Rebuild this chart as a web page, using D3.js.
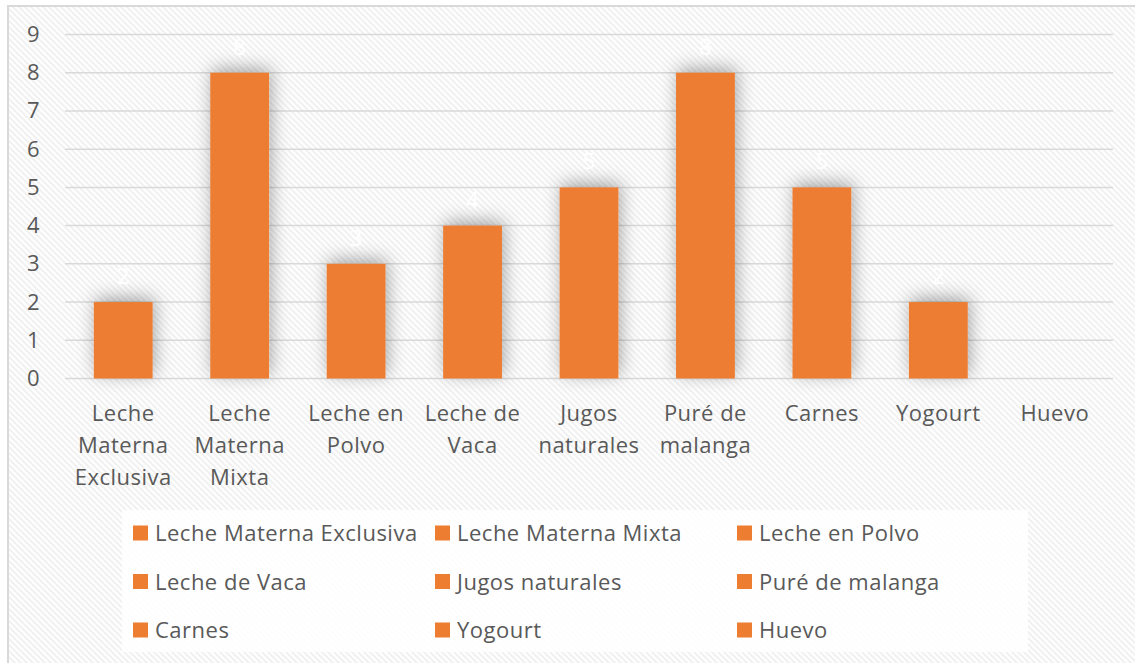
<!DOCTYPE html>
<html>
<head>
<meta charset="utf-8">
<script src="https://cdn.jsdelivr.net/npm/d3@7"></script>
<style>
  html, body { margin: 0; padding: 0; background: #fff; }
  svg { display: block; font-family: "Open Sans", sans-serif; letter-spacing: 0.5px; }
</style>
</head>
<body>
<svg id="chart" width="1135" height="663"></svg>
<script>
// data
const categories = ['Leche Materna Exclusiva', 'Leche Materna Mixta', 'Leche en Polvo',
  'Leche de Vaca', 'Jugos naturales', 'Puré de malanga', 'Carnes', 'Yogourt', 'Huevo'];
const values = [2, 8, 3, 4, 5, 8, 5, 2, 0];
const tickLines = [
  ['Leche', 'Materna', 'Exclusiva'],
  ['Leche', 'Materna', 'Mixta'],
  ['Leche en', 'Polvo'],
  ['Leche de', 'Vaca'],
  ['Jugos', 'naturales'],
  ['Puré de', 'malanga'],
  ['Carnes'],
  ['Yogourt'],
  ['Huevo']
];
const yTicks = [0, 1, 2, 3, 4, 5, 6, 7, 8, 9];

const orange = '#ED7D31',
      textGray = '#595959',
      gridGray = '#D9D9D9',
      fontSize = '22px';

const svg = d3.select('#chart');

// background pattern
const defs = svg.append('defs');
const pat = defs.append('pattern')
  .attr('id', 'hatch')
  .attr('width', 6)
  .attr('height', 6)
  .attr('patternUnits', 'userSpaceOnUse');
pat.append('rect').attr('width', 6).attr('height', 6).attr('fill', '#fff');
pat.append('path')
  .attr('d', 'M-1,-1 L7,7 M-4,2 L1,7 M2,-4 L7,1')
  .attr('stroke', '#F1F1F1')
  .attr('stroke-width', 2);

const shadow = defs.append('filter')
  .attr('id', 'glow')
  .attr('x', '-60%').attr('y', '-40%')
  .attr('width', '220%').attr('height', '180%');
shadow.append('feDropShadow')
  .attr('dx', 2).attr('dy', -4)
  .attr('stdDeviation', 9)
  .attr('flood-color', '#000')
  .attr('flood-opacity', 0.34);

svg.append('rect')
  .attr('x', 8).attr('y', 6)
  .attr('width', 1140).attr('height', 670)
  .attr('fill', 'url(#hatch)')
  .attr('stroke', gridGray)
  .attr('stroke-width', 2);

// scales
const x = d3.scaleBand()
  .domain(categories)
  .range([65, 1113])
  .paddingInner(0.495)
  .paddingOuter(0.2475);

const y = d3.scaleLinear()
  .domain([0, 9])
  .range([378.5, 34.5]);

// gridlines
svg.append('g')
  .selectAll('line')
  .data(yTicks)
  .join('line')
  .attr('x1', 65).attr('x2', 1113)
  .attr('y1', d => y(d)).attr('y2', d => y(d))
  .attr('stroke', gridGray)
  .attr('stroke-width', 1.5);

// y axis labels
const yAxis = svg.append('g')
  .attr('transform', 'translate(40,0)')
  .call(d3.axisLeft(y).tickValues(yTicks).tickSize(0).tickPadding(0));
yAxis.select('.domain').remove();
yAxis.selectAll('text')
  .attr('fill', textGray)
  .style('font-size', fontSize)
  .style('font-family', '"Open Sans", sans-serif');

// bars
svg.append('g')
  .selectAll('rect')
  .data(values)
  .join('rect')
  .attr('x', (d, i) => x(categories[i]))
  .attr('y', d => y(d))
  .attr('width', x.bandwidth())
  .attr('height', d => y(0) - y(d))
  .attr('fill', orange)
  .attr('filter', d => d > 0 ? 'url(#glow)' : null);

// data labels
svg.append('g')
  .selectAll('text')
  .data(values)
  .join('text')
  .filter(d => d > 0)
  .attr('x', (d, i) => x(categories[i]) + x.bandwidth() / 2)
  .attr('y', d => y(d) - 18)
  .attr('text-anchor', 'middle')
  .attr('fill', '#fff')
  .style('font-size', fontSize)
  .text(d => d);

// x labels
const xl = svg.append('g')
  .selectAll('text')
  .data(categories)
  .join('text')
  .attr('text-anchor', 'middle')
  .attr('fill', textGray)
  .style('font-size', fontSize);
xl.selectAll('tspan')
  .data((d, i) => tickLines[i].map(t => ({ t, cx: x(d) + x.bandwidth() / 2 })))
  .join('tspan')
  .attr('x', d => d.cx)
  .attr('y', (d, j) => 421 + j * 32)
  .text(d => d.t);

// legend
svg.append('rect')
  .attr('x', 122).attr('y', 510)
  .attr('width', 906).attr('height', 142)
  .attr('fill', '#fff')
  .attr('fill-opacity', 0.85);

const legend = svg.append('g')
  .selectAll('g')
  .data(categories)
  .join('g')
  .attr('transform', (d, i) => `translate(${133 + (i % 3) * 302},${533 + Math.floor(i / 3) * 48.5})`);
legend.append('rect')
  .attr('x', 0).attr('y', -7.5)
  .attr('width', 15).attr('height', 15)
  .attr('fill', orange);
legend.append('text')
  .attr('x', 22).attr('y', 8)
  .attr('fill', textGray)
  .style('font-size', fontSize)
  .text(d => d);
</script>
</body>
</html>
